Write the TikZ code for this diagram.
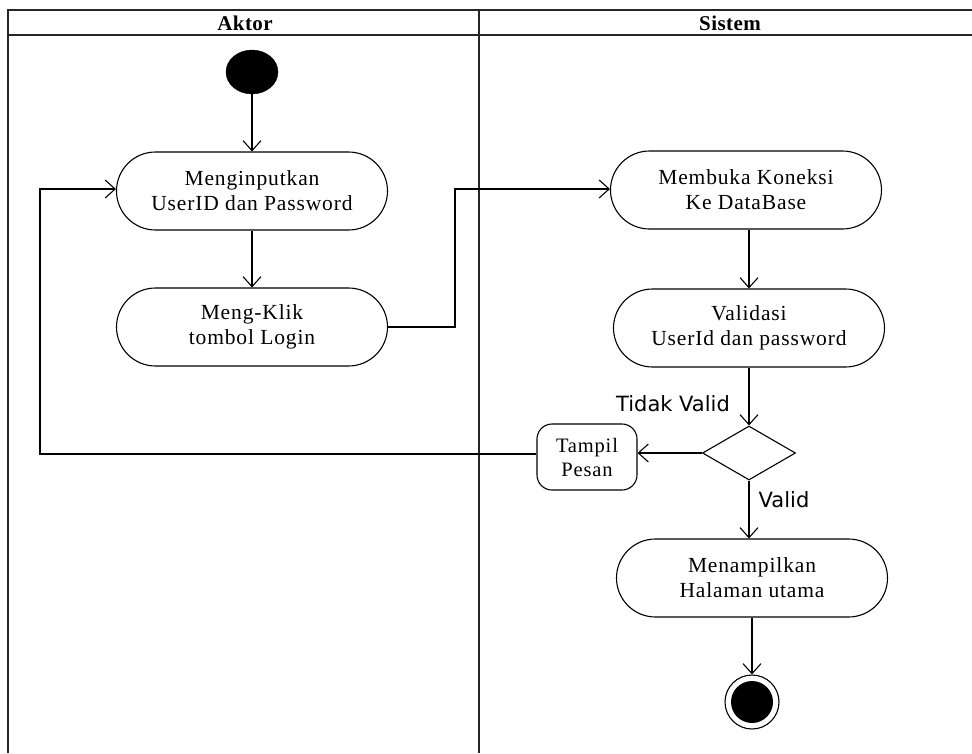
\documentclass[tikz,border=0pt]{standalone}
\usepackage{fontspec}
\setmainfont{Liberation Serif}
\newfontfamily\nodefont[LetterSpace=4]{Liberation Serif}
\newfontfamily\headfont[LetterSpace=2]{Liberation Serif}
\newfontfamily\guardfont{DejaVu Sans}
\usetikzlibrary{arrows.meta,shapes.geometric}
\tikzset{
  lane/.style={line width=1.4pt, draw=black!85},
  action/.style={draw, line width=1.1pt, rounded corners=39pt, minimum width=271pt,
    minimum height=78pt, align=center, inner sep=0pt,
    font=\nodefont\fontsize{21.5}{25}\selectfont},
  smallaction/.style={draw, line width=1.1pt, rounded corners=15pt, minimum width=100pt,
    minimum height=66pt, align=center, inner sep=0pt,
    font=\nodefont\fontsize{20.5}{24}\selectfont},
  decision/.style={draw, line width=1.1pt, diamond, minimum width=93pt, minimum height=54pt,
    inner sep=0pt, aspect=1.72},
  head/.style={font=\headfont\bfseries\fontsize{21}{24}\selectfont},
  guard/.style={font=\guardfont\fontsize{21}{24}\selectfont},
  flow/.style={line width=1.1pt, -{Straight Barb[length=10pt,width=18pt,line width=1.1pt]}},
  link/.style={line width=1.1pt}
}
\begin{document}
\begin{tikzpicture}[x=1pt,y=-1pt]
  \useasboundingbox (0,0) rectangle (972,753);
  % swimlane frame
  \draw[lane] (972,10) -- (8,10) -- (8,753);
  \draw[lane] (8,35) -- (972,35);
  \draw[lane] (479,10) -- (479,753);
  \node[head] (hAktor) at (245,23) {Aktor};
  \node[head] (hSistem) at (730,23) {Sistem};

  % initial and final states
  \node[draw, fill=black, ellipse, minimum width=52pt, minimum height=44pt, inner sep=0pt] (start) at (252,72) {};
  \node[draw, line width=1.1pt, circle, minimum size=54pt, inner sep=0pt] (final) at (752,702) {};
  \node[fill=black, circle, minimum size=42pt, inner sep=0pt] (finalcore) at (752,702) {};

  % actions
  \node[action] (input) at (252,191) {Menginputkan\\UserID  dan Password};
  \node[action] (klik) at (252,327) {Meng-Klik\\tombol Login};
  \node[action] (koneksi) at (746,190) {Membuka Koneksi\\Ke DataBase};
  \node[action] (validasi) at (749,328) {Validasi\\UserId dan password};
  \node[decision] (cek) at (749,453) {};
  \node[smallaction] (pesan) at (587,457) {Tampil\\Pesan};
  \node[action] (utama) at (752,578) {Menampilkan\\Halaman utama};

  % flows
  \draw[flow] (start) -- (input);
  \draw[flow] (input) -- (klik);
  \draw[flow] (klik.east) -- (455,327) -- (455,189) -- (koneksi.west |- 0,189);
  \draw[flow] (koneksi.south -| 749,0) -- (validasi);
  \draw[flow] (validasi) -- (cek.north);
  \draw[flow] (cek.west) -- (pesan.east |- cek.west);
  \draw[flow] (pesan.west |- 0,454) -- (40,454) -- (40,189) -- (input.west |- 0,189);
  \draw[flow] (cek.south) -- (utama.north -| cek.south);
  \draw[flow] (utama.south) -- (final.north);

  % guards
  \node[guard] (gTidak) at (673,404) {Tidak Valid};
  \node[guard] (gValid) at (784,500) {Valid};
\end{tikzpicture}
\end{document}
